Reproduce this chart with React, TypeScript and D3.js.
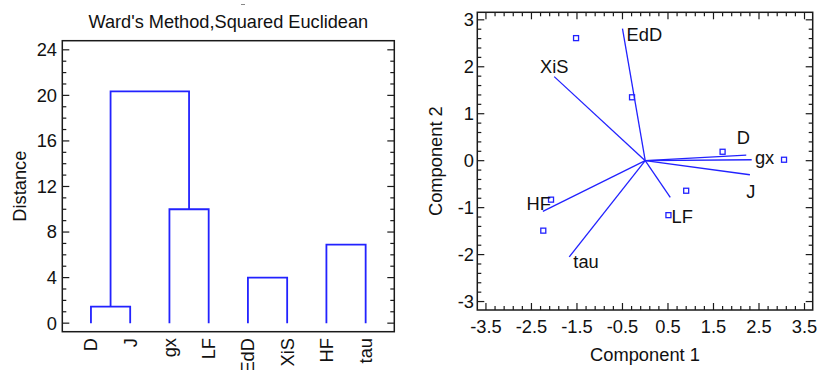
import React from "react";
import * as d3 from "d3";

// ---------- Dendrogram data ----------
const leaves = ["D", "J", "gx", "LF", "EdD", "XiS", "HF", "tau"];
// merges: children are leaf names or indices of earlier merges
const mergeLeft: (string | number)[] = ["D", "gx", "EdD", "HF", 0];
const mergeRight: (string | number)[] = ["J", "LF", "XiS", "tau", 1];
const mergeHeight = [1.45, 10.0, 4.0, 6.9, 20.35];
const distanceTicks = [0, 4, 8, 12, 16, 20, 24];

// ---------- Biplot data ----------
const varNames = ["EdD", "XiS", "D", "gx", "J", "HF", "tau", "LF"];
const varX = [-0.5, -2.0, 2.22, 2.34, 2.3, -2.25, -1.67, 0.55];
const varY = [2.81, 1.79, 0.12, 0.02, -0.3, -1.08, -2.05, -0.78];
// label anchor (start, baseline) in component units
const labelX = [-0.41, -2.31, 2.01, 2.41, 2.22, -2.61, -1.58, 0.58];
const labelY = [2.54, 1.86, 0.35, -0.08, -0.8, -1.05, -2.29, -1.33];
const obsX = [-1.52, -0.29, 1.7, 3.05, -2.07, -2.24, 0.9, 0.51];
const obsY = [2.61, 1.35, 0.19, 0.02, -0.83, -1.49, -0.64, -1.16];
const comp1Ticks = [-3.5, -2.5, -1.5, -0.5, 0.5, 1.5, 2.5, 3.5];
const comp2Ticks = [-3, -2, -1, 0, 1, 2, 3];

const FONT = "'Liberation Sans', Arial, Helvetica, sans-serif";
const BLUE = "#2222ff";
const FRAME = "#1a1a1a";

export default function App() {
  // Left panel
  const L = { x0: 62.3, x1: 394.3, y0: 40.7, y1: 331.7 };
  const yL = d3.scaleLinear().domain([-0.75, 24.8]).range([L.y1, L.y0]);
  const xL = d3.scalePoint<string>().domain(leaves).range([L.x0, L.x1]).padding(0.73);

  const nodeX: number[] = [];
  const childPos = (c: string | number) =>
    typeof c === "number" ? { x: nodeX[c], h: mergeHeight[c] } : { x: xL(c) as number, h: 0 };
  const dendPaths: string[] = [];
  mergeHeight.forEach((h, i) => {
    const a = childPos(mergeLeft[i]);
    const b = childPos(mergeRight[i]);
    nodeX[i] = (a.x + b.x) / 2;
    const p = d3.path();
    p.moveTo(a.x, yL(a.h));
    p.lineTo(a.x, yL(h));
    p.lineTo(b.x, yL(h));
    p.lineTo(b.x, yL(b.h));
    dendPaths.push(p.toString());
  });
  const minorL = d3.range(0, 25);

  // Right panel
  const R = { x0: 477.3, x1: 812.7, y0: 12.3, y1: 310 };
  const xR = d3.scaleLinear().domain([-3.69, 3.68]).range([R.x0, R.x1]);
  const yR = d3.scaleLinear().domain([-3.18, 3.16]).range([R.y1, R.y0]);
  const minorXR = d3.range(0, 36).map((k) => -3.5 + k * 0.2);
  const minorYR = d3.range(-15, 16).map((k) => k * 0.2);

  const fs = 18.3;

  return (
    <svg
      width={817}
      height={370}
      style={{ position: "absolute", left: 0, top: 0, background: "#fff" }}
      fontFamily={FONT}
    >
      <rect x={0} y={0} width={817} height={370} fill="#fff" />
      {/* small artifact dash */}
      <line x1={241} x2={245} y1={4.5} y2={4.5} stroke="#888" strokeWidth={1} />

      {/* ===== Left panel ===== */}
      <text x={(L.x0 + L.x1) / 2} y={28} textAnchor="middle" fontSize={18.2} fill="#111">
        Ward's Method,Squared Euclidean
      </text>
      {minorL.map((v) => {
        const major = distanceTicks.includes(v);
        const len = major ? 7 : 4;
        return (
          <g key={"ml" + v} stroke={FRAME} strokeWidth={1.2}>
            <line x1={L.x0} x2={L.x0 + len} y1={yL(v)} y2={yL(v)} />
            <line x1={L.x1} x2={L.x1 - len} y1={yL(v)} y2={yL(v)} />
          </g>
        );
      })}
      {distanceTicks.map((v) => (
        <text key={"tl" + v} x={57} y={yL(v)} dy="0.35em" textAnchor="end" fontSize={fs} fill="#111">
          {v}
        </text>
      ))}
      <text
        transform={`translate(20,${(L.y0 + L.y1) / 2}) rotate(-90)`}
        dy="0.35em"
        textAnchor="middle"
        fontSize={fs}
        fill="#111"
      >
        Distance
      </text>
      {dendPaths.map((d, i) => (
        <path key={"dp" + i} d={d} fill="none" stroke={BLUE} strokeWidth={1.8} />
      ))}
      {leaves.map((n) => (
        <text
          key={"lv" + n}
          transform={`translate(${xL(n)},338) rotate(-90)`}
          dy="0.35em"
          textAnchor="end"
          fontSize={fs}
          fill="#111"
        >
          {n}
        </text>
      ))}
      <rect
        x={L.x0}
        y={L.y0}
        width={L.x1 - L.x0}
        height={L.y1 - L.y0}
        fill="none"
        stroke={FRAME}
        strokeWidth={1.5}
      />

      {/* ===== Right panel ===== */}
      {minorXR.map((v, i) => {
        const major = comp1Ticks.some((t) => Math.abs(t - v) < 1e-6);
        const len = major ? 7 : 4;
        return (
          <g key={"mx" + i} stroke={FRAME} strokeWidth={1.2}>
            <line x1={xR(v)} x2={xR(v)} y1={R.y1} y2={R.y1 - len} />
            <line x1={xR(v)} x2={xR(v)} y1={R.y0} y2={R.y0 + len} />
          </g>
        );
      })}
      {minorYR.map((v, i) => {
        const major = comp2Ticks.some((t) => Math.abs(t - v) < 1e-6);
        const len = major ? 7 : 4;
        return (
          <g key={"my" + i} stroke={FRAME} strokeWidth={1.2}>
            <line x1={R.x0} x2={R.x0 + len} y1={yR(v)} y2={yR(v)} />
            <line x1={R.x1} x2={R.x1 - len} y1={yR(v)} y2={yR(v)} />
          </g>
        );
      })}
      {comp1Ticks.map((v) => (
        <text key={"tx" + v} x={xR(v)} y={333} textAnchor="middle" fontSize={fs} fill="#111">
          {v}
        </text>
      ))}
      {comp2Ticks.map((v) => (
        <text key={"ty" + v} x={474} y={yR(v)} dy="0.35em" textAnchor="end" fontSize={fs} fill="#111">
          {v}
        </text>
      ))}
      <text x={(R.x0 + R.x1) / 2} y={361} textAnchor="middle" fontSize={fs} fill="#111">
        Component 1
      </text>
      <text
        transform={`translate(436,${(R.y0 + R.y1) / 2}) rotate(-90)`}
        dy="0.35em"
        textAnchor="middle"
        fontSize={fs}
        fill="#111"
      >
        Component 2
      </text>
      {varNames.map((n, i) => (
        <line
          key={"v" + n}
          x1={xR(0)}
          y1={yR(0)}
          x2={xR(varX[i])}
          y2={yR(varY[i])}
          stroke={BLUE}
          strokeWidth={1.3}
        />
      ))}
      {obsX.map((x, i) => (
        <rect
          key={"o" + i}
          x={xR(x) - 2.5}
          y={yR(obsY[i]) - 2.5}
          width={5}
          height={5}
          fill="none"
          stroke={BLUE}
          strokeWidth={1.3}
        />
      ))}
      {varNames.map((n, i) => (
        <text key={"lb" + n} x={xR(labelX[i])} y={yR(labelY[i])} fontSize={fs} fill="#111">
          {n}
        </text>
      ))}
      <rect
        x={R.x0}
        y={R.y0}
        width={R.x1 - R.x0}
        height={R.y1 - R.y0}
        fill="none"
        stroke={FRAME}
        strokeWidth={1.5}
      />
    </svg>
  );
}
